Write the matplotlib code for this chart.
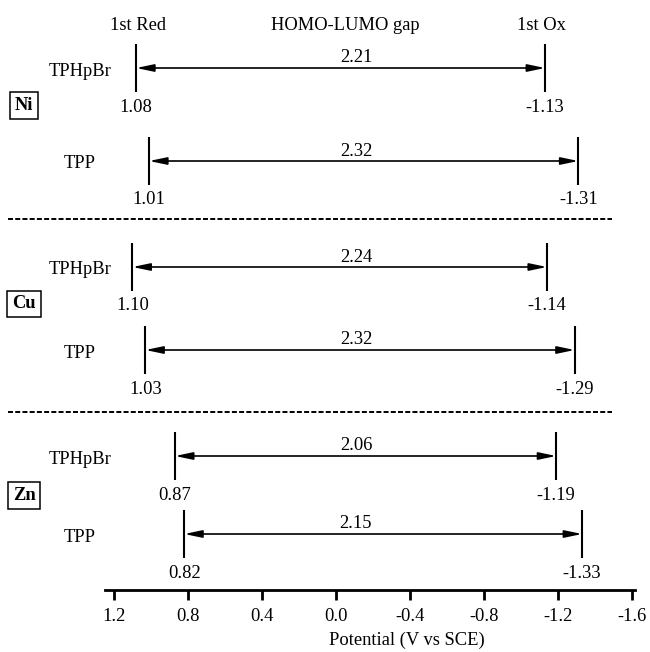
import matplotlib
matplotlib.use("Agg")
import matplotlib.pyplot as plt

plt.rcParams['font.family'] = ['Liberation Serif', 'DejaVu Serif']
plt.rcParams['lines.scale_dashes'] = False

# ---- data ----
metals = ['Ni', 'Cu', 'Zn']
compounds = ['TPHpBr', 'TPP']
first_red = [1.08, 1.01, 1.10, 1.03, 0.87, 0.82]
first_ox = [-1.13, -1.31, -1.14, -1.29, -1.19, -1.33]
gap = [2.21, 2.32, 2.24, 2.32, 2.06, 2.15]
xticks = [1.2, 0.8, 0.4, 0.0, -0.4, -0.8, -1.2, -1.6]
xtick_labels = ['1.2', '0.8', '0.4', '0.0', '-0.4', '-0.8', '-1.2', '-1.6']

# ---- layout (pixel units on y) ----
W, H = 650, 652
AX_BOTTOM = 590
PX0 = 336.0      # pixel x of 0.0 V
PPU = 185.0      # pixels per volt
TY = 2           # text vertical nudge (px)


def v(px):
    return (PX0 - px) / PPU


row_y = [68, 161, 267, 350, 456, 534]
box_y = [104.5, 303, 494.5]
sep_y = [219, 412]
FS = 13.3

fig = plt.figure(figsize=(W / 100, H / 100), dpi=100)
ax = fig.add_axes([0, (H - AX_BOTTOM) / H, 1, AX_BOTTOM / H])
ax.set_xlim(v(0), v(W))
ax.set_ylim(AX_BOTTOM, 0)

for s in ['top', 'left', 'right']:
    ax.spines[s].set_visible(False)
ax.spines['bottom'].set_linewidth(2.0)
ax.spines['bottom'].set_bounds(v(105), v(635))
ax.set_yticks([])
ax.set_xticks(xticks)
ax.set_xticklabels(xtick_labels)
ax.tick_params(axis='x', direction='out', length=7, width=2.0,
               labelsize=FS, pad=6)
ax.set_xlabel('Potential (V vs SCE)', fontsize=FS)
ax.xaxis.set_label_coords(407 / W, -(640 - AX_BOTTOM) / AX_BOTTOM)
ax.xaxis.label.set_va('center')

# header
ax.text(v(138), 23 + TY, '1st Red', ha='center', va='center', fontsize=FS)
ax.text(v(345), 23 + TY, 'HOMO-LUMO gap', ha='center', va='center', fontsize=FS)
ax.text(v(541), 23 + TY, '1st Ox', ha='center', va='center', fontsize=FS)

for i in range(6):
    y = row_y[i]
    r, o = first_red[i], first_ox[i]
    ax.vlines([r, o], y - 24, y + 24, color='black', lw=1.5)
    ax.annotate('', xy=(o, y), xytext=(r, y),
                arrowprops=dict(arrowstyle='<|-|>,head_length=1.05,head_width=0.22',
                                color='black', lw=1.2, shrinkA=0, shrinkB=0,
                                mutation_scale=10))
    ax.text(v(356), y - 12 + TY, f'{gap[i]:.2f}', ha='center', va='center', fontsize=FS)
    ax.text(r, y + 37 + TY, f'{r:.2f}', ha='center', va='center', fontsize=FS)
    ax.text(o, y + 37 + TY, f'{o:.2f}', ha='center', va='center', fontsize=FS)
    ax.text(v(80), y + 1 + TY, compounds[i % 2], ha='center', va='center', fontsize=FS)

for j, m in enumerate(metals):
    ax.text(v(24), box_y[j] + 1, m, ha='center', va='center', fontsize=FS,
            fontweight='bold',
            bbox=dict(boxstyle='square,pad=0.27', fc='white', ec='black', lw=1.1))

for y in sep_y:
    ax.plot([v(8), v(612)], [y, y], color='black', lw=1.4, dashes=(3.6, 1.6))

fig.savefig('out.png', dpi=100)
